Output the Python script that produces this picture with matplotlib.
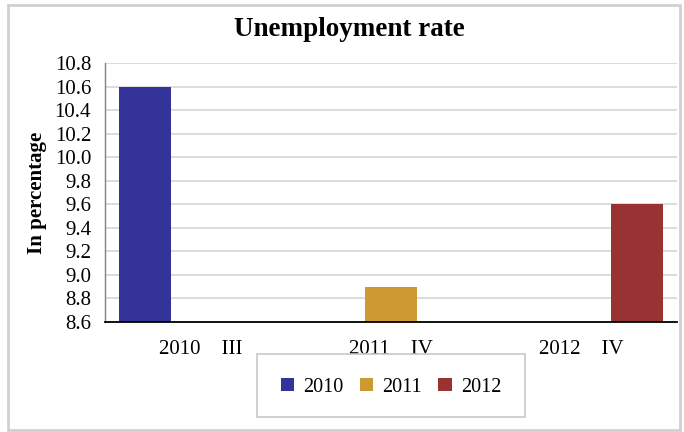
import numpy as np
import matplotlib
matplotlib.use("Agg")
import matplotlib.pyplot as plt
from matplotlib.patches import Rectangle

# ---- data -----------------------------------------------------------------------
categories = ["2010    III", "2011    IV", "2012    IV"]
series_names = ["2010", "2011", "2012"]
rate_2010 = [10.6, np.nan, np.nan]
rate_2011 = [np.nan, 8.9, np.nan]
rate_2012 = [np.nan, np.nan, 9.6]
yticks = [8.6, 8.8, 9.0, 9.2, 9.4, 9.6, 9.8, 10.0, 10.2, 10.4, 10.6, 10.8]

colors = ["#333399", "#cc9933", "#993333"]
plt.rcParams["font.family"] = ["Liberation Serif", "DejaVu Serif"]

W, H = 684, 432
fig = plt.figure(figsize=(W / 100, H / 100), dpi=100)
fig.patch.set_facecolor("white")

def fx(px): return px / W
def fy(py): return 1 - py / H

# plot area in pixels: x 105..677, y 63..322
ax = fig.add_axes([fx(105), fy(322), fx(677) - fx(105), fy(63) - fy(322)])

x = np.arange(len(categories))
width, step = 0.27, 0.29
for i, (name, vals) in enumerate(zip(series_names, [rate_2010, rate_2011, rate_2012])):
    ax.bar(x + (i - 1) * step, vals, width, color=colors[i], label=name, zorder=2)

ax.set_xlim(-0.5, len(categories) - 0.5)
ax.set_ylim(yticks[0], yticks[-1])
ax.set_yticks(yticks)
ax.set_yticklabels([f"{v:.1f}" for v in yticks], fontsize=15)
ax.set_xticks(x)
ax.set_xticklabels(categories, fontsize=15)
ax.tick_params(axis="y", length=0, pad=10)
ax.tick_params(axis="x", length=0, pad=13)
ax.grid(axis="y", color="#d9d9d9", lw=1.3, zorder=0)
ax.set_axisbelow(True)

for s in ("top", "right"):
    ax.spines[s].set_visible(False)
ax.spines["left"].set_color("#808080")
ax.spines["left"].set_linewidth(1.0)
ax.spines["bottom"].set_color("black")
ax.spines["bottom"].set_linewidth(1.3)

ax.set_ylabel("In percentage", fontsize=15, fontweight="bold")
ax.yaxis.set_label_coords((47 - 105) / 572, 0.5)

fig.text(fx(349.5), fy(29), "Unemployment rate", fontsize=19.5, fontweight="bold",
         ha="center", va="center")

# legend with its own frame box
leg = ax.legend(loc="center", bbox_to_anchor=(fx(391), fy(387)), bbox_transform=fig.transFigure,
                ncol=3, frameon=False, fontsize=14.5, handlelength=0.67, handleheight=0.67,
                handletextpad=0.45, columnspacing=0.8)
fig.patches.append(Rectangle((fx(257), fy(417)), fx(525) - fx(257), fy(354) - fy(417),
                             transform=fig.transFigure, fill=False, ec="#c8c8c8", lw=1.2))

# outer chart border
fig.patches.append(Rectangle((fx(8), fy(430)), fx(680) - fx(8), fy(5) - fy(430),
                             transform=fig.transFigure, fill=False, ec="#d0d0d0", lw=2))

fig.savefig("out.png", dpi=100, facecolor="white")
